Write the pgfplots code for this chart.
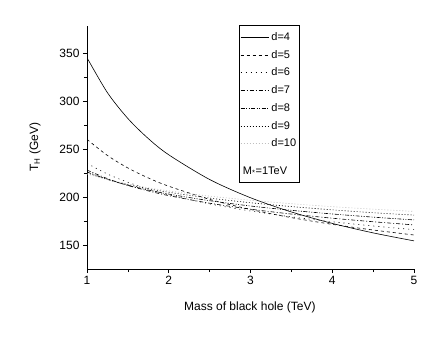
\documentclass[border=0pt]{standalone}
\usepackage{fontspec}
\setmainfont{Liberation Sans}
\usepackage{pgfplots}
\pgfplotsset{compat=1.18}

\begin{document}
\begin{tikzpicture}
% keep the whitespace of the reference around the axis
\useasboundingbox (-87pt,-71pt) rectangle (356pt,269pt);
\begin{axis}[
    at={(0pt,0pt)}, anchor=origin,
    scale only axis,
    width=327pt, height=243pt,
    xmin=1, xmax=5,
    ymin=125, ymax=378,
    axis lines=left,
    axis line style={-, line width=0.8pt},
    tick align=outside,
    xtick={1,2,3,4,5},
    ytick={150,200,250,300,350},
    minor x tick num=1,
    minor y tick num=1,
    major tick length=4pt,
    minor tick length=3pt,
    tick style={line width=0.6pt, black},
    /pgf/number format/assume math mode=true,
    tick label style={font=\fontsize{12}{14}\selectfont},
    xlabel={Mass of black hole (TeV)},
    ylabel={T\textsubscript{H} (GeV)},
    every axis x label/.style={at={(axis description cs:0.498,-0.16)}, anchor=center,
        font=\fontsize{12}{14}\selectfont},
    every axis y label/.style={at={(axis description cs:-0.159,0.502)}, rotate=90, anchor=center,
        font=\fontsize{12}{14}\selectfont},
    legend cell align=left,
    legend image code/.code={\draw[#1] (0cm,0cm) -- (1.0cm,0cm);},
    legend style={
        at={(0.465,1.004)}, anchor=north west,
        font=\fontsize{11}{13}\selectfont,
        draw=black, line width=0.6pt,
        row sep=4.3pt,
        inner xsep=1pt, inner ysep=5pt,
    },
]

% d=4
\addplot[black, line width=0.6pt, smooth] coordinates {
    (1, 345.0) (1.25, 308.6) (1.5, 281.7) (1.75, 260.8) (2, 243.9) (2.5, 218.2) (3, 199.2)
    (3.5, 184.4) (4, 172.5) (4.5, 162.6) (5, 154.3)
};
\addlegendentry{d=4}

% d=5
\addplot[black, line width=0.6pt, smooth, dash pattern=on 3pt off 3pt] coordinates {
    (1, 260.0) (1.25, 243.2) (1.5, 230.2) (1.75, 219.8) (2, 211.2) (2.5, 197.5) (3, 187.0)
    (3.5, 178.5) (4, 171.5) (4.5, 165.6) (5, 160.4)
};
\addlegendentry{d=5}

% d=6
\addplot[black, line width=0.6pt, smooth, dash pattern=on 1pt off 4pt] coordinates {
    (1, 235.0) (1.25, 223.9) (1.5, 215.3) (1.75, 208.2) (2, 202.3) (2.5, 192.8) (3, 185.4)
    (3.5, 179.3) (4, 174.2) (4.5, 169.8) (5, 166.0)
};
\addlegendentry{d=6}

% d=7
\addplot[black, line width=0.6pt, smooth, dash pattern=on 4pt off 2pt on 1pt off 2pt] coordinates {
    (1, 228.0) (1.25, 219.1) (1.5, 212.0) (1.75, 206.3) (2, 201.4) (2.5, 193.5) (3, 187.3)
    (3.5, 182.2) (4, 177.9) (4.5, 174.2) (5, 170.9)
};
\addlegendentry{d=7}

% d=8
\addplot[black, line width=0.6pt, smooth, dash pattern=on 4pt off 1.5pt on 1pt off 1.5pt on 1pt off 1.5pt] coordinates {
    (1, 226.0) (1.25, 218.3) (1.5, 212.2) (1.75, 207.2) (2, 203.0) (2.5, 196.1) (3, 190.6)
    (3.5, 186.1) (4, 182.3) (4.5, 179.0) (5, 176.1)
};
\addlegendentry{d=8}

% d=9
\addplot[black, line width=0.6pt, smooth, dash pattern=on 1pt off 2pt] coordinates {
    (1, 225.0) (1.25, 218.3) (1.5, 213.0) (1.75, 208.6) (2, 204.9) (2.5, 198.8) (3, 194.0)
    (3.5, 190.0) (4, 186.6) (4.5, 183.6) (5, 181.1)
};
\addlegendentry{d=9}

% d=10
\addplot[black!25, line width=0.6pt, smooth, dash pattern=on 1pt off 2pt] coordinates {
    (1, 224.0) (1.25, 218.1) (1.5, 213.4) (1.75, 209.6) (2, 206.3) (2.5, 200.9) (3, 196.6)
    (3.5, 193.0) (4, 189.9) (4.5, 187.3) (5, 185.0)
};
\addlegendentry{d=10}

\addlegendimage{empty legend}
\addlegendentry{}
\addlegendimage{empty legend}
\addlegendentry{\hspace{-1cm}M\textsubscript{*}=1TeV}

\end{axis}
\end{tikzpicture}
\end{document}
